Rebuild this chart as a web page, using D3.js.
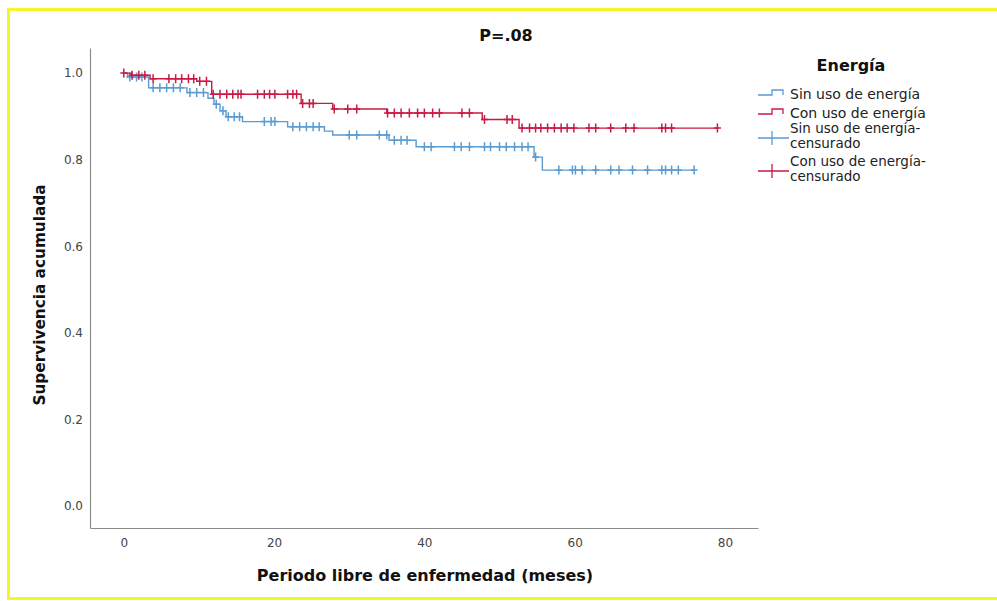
<!DOCTYPE html>
<html><head><meta charset="utf-8">
<script src="https://cdn.jsdelivr.net/npm/d3@7"></script>
<style>
html,body{margin:0;padding:0;background:#fff;}
svg{display:block;}
text{font-family:"DejaVu Sans",sans-serif;}
</style></head>
<body>
<svg id="chart" width="997" height="601"></svg>
<script>
// ---- data ----
const seriesNames = ["Sin uso de energía", "Con uso de energía"];
const legendTitle = "Energía";
const chartTitle = "P=.08";
const xTitle = "Periodo libre de enfermedad (meses)";
const yTitle = "Supervivencia acumulada";
const xTicks = [0, 20, 40, 60, 80];
const yTicks = [0.0, 0.2, 0.4, 0.6, 0.8, 1.0];

// event steps [time, survival after event]
const sinSteps = [[0,1.0],[0.5,0.991],[3.3,0.966],[8.4,0.955],[11.2,0.942],[12.0,0.928],[12.8,0.913],[13.6,0.899],[15.8,0.888],[21.8,0.876],[26.7,0.866],[27.8,0.857],[35.3,0.845],[38.9,0.830],[54.6,0.806],[55.7,0.776]];
const sinEnd = 75.9;
const sinCensored = [0.8,1.7,2.4,3.9,4.8,5.7,6.6,7.5,8.8,9.7,10.6,12.3,13.2,13.9,14.7,15.4,18.7,19.6,20.1,22.5,23.4,24.3,25.2,26.0,30.0,31.0,34.0,35.0,36.0,36.9,37.7,40.0,40.9,44.0,44.9,46.0,48.0,48.8,50.0,50.9,52.0,53.0,53.8,54.8,57.9,59.7,60.1,61.0,62.8,64.8,65.9,67.7,69.7,71.6,72.1,72.9,73.8,75.9];

const conSteps = [[0,1.0],[1.0,0.995],[3.5,0.987],[9.7,0.981],[11.7,0.951],[23.6,0.930],[27.8,0.917],[35.0,0.908],[47.7,0.893],[52.6,0.873]];
const conEnd = 79.0;
const conCensored = [0,1.1,2.0,2.8,3.9,6.0,6.9,7.7,8.6,9.3,10.1,11.0,11.9,12.8,13.7,14.5,15.2,15.6,17.8,18.7,19.4,20.1,21.8,22.5,23.0,23.8,24.7,25.2,28.0,29.8,31.0,35.1,36.0,36.9,38.0,39.1,40.0,41.1,42.0,45.0,46.0,48.0,51.0,51.7,53.0,54.0,54.8,55.5,56.4,57.3,58.2,59.0,59.9,61.9,62.8,64.8,66.8,67.9,71.6,72.1,72.9,79.0];

const colors = ["#5a9bd2", "#c71a45"];

// ---- drawing ----
const svg = d3.select("#chart");
svg.append("rect").attr("x",8.5).attr("y",9.5).attr("width",1000).attr("height",589)
  .attr("fill","none").attr("stroke","#f5f52a").attr("stroke-width",3);

const x = d3.scaleLinear().domain([-4.5, 84.4]).range([90, 758]);
const y = d3.scaleLinear().domain([-0.0508, 1.058]).range([528, 48]);

const xAxis = svg.append("g").attr("transform","translate(0,528)")
  .call(d3.axisBottom(x).tickValues(xTicks).tickSize(0).tickPadding(10).tickFormat(d3.format("d")));
const yAxis = svg.append("g").attr("transform","translate(90,0)")
  .call(d3.axisLeft(y).tickValues(yTicks).tickSize(0).tickPadding(7).tickFormat(d3.format(".1f")));
[xAxis,yAxis].forEach(g=>{
  g.select(".domain").attr("stroke","#8c8c8c").attr("stroke-width",1.2);
  g.selectAll("text").attr("fill","#444").style("font-size","12px").style("font-family","DejaVu Sans, sans-serif");
});

function survAt(steps, t){
  let s = steps[0][1];
  for (const [tt, ss] of steps){ if (tt <= t) s = ss; }
  return s;
}
function kmPath(steps, end){
  const p = d3.path();
  p.moveTo(x(steps[0][0]), y(steps[0][1]));
  for (let i=1;i<steps.length;i++){
    p.lineTo(x(steps[i][0]), y(steps[i-1][1]));
    p.lineTo(x(steps[i][0]), y(steps[i][1]));
  }
  p.lineTo(x(end), y(steps[steps.length-1][1]));
  return p.toString();
}

const groups = [
  {steps: sinSteps, end: sinEnd, cens: sinCensored, color: colors[0]},
  {steps: conSteps, end: conEnd, cens: conCensored, color: colors[1]}
];
groups.forEach(g=>{
  svg.append("path").attr("d", kmPath(g.steps, g.end))
    .attr("fill","none").attr("stroke", g.color).attr("stroke-width",1.4);
  const cg = svg.append("g").attr("stroke", g.color).attr("stroke-width",1.5);
  g.cens.forEach(t=>{
    const cx = x(t), cy = y(survAt(g.steps, t));
    cg.append("path").attr("d", `M${cx-3.5},${cy}H${cx+3.5}M${cx},${cy-4.5}V${cy+4.5}`);
  });
});

// titles
svg.append("text").attr("x",506).attr("y",41).attr("text-anchor","middle")
  .style("font-size","16px").style("font-weight","bold").attr("fill","#111").text(chartTitle);
svg.append("text").attr("x",425).attr("y",581).attr("text-anchor","middle")
  .style("font-size","16px").style("font-weight","bold").attr("fill","#111").text(xTitle);
svg.append("text").attr("transform","translate(45,295) rotate(-90)").attr("text-anchor","middle")
  .style("font-size","15.3px").style("font-weight","bold").attr("fill","#111").text(yTitle);

// legend
const lg = svg.append("g");
lg.append("text").attr("x",851).attr("y",71).attr("text-anchor","middle")
  .style("font-size","16px").style("font-weight","bold").attr("fill","#111").text(legendTitle);
const stepY = [94, 113];
stepY.forEach((cy,i)=>{
  lg.append("path").attr("d",`M758,${cy+1}H772V${cy-4}H783V${cy+1}`)
    .attr("fill","none").attr("stroke",colors[i]).attr("stroke-width",1.3);
  lg.append("text").attr("x",790).attr("y",cy+5).style("font-size","14px").attr("fill","#222").text(seriesNames[i]);
});
const crossY = [138, 171];
crossY.forEach((cy,i)=>{
  lg.append("path").attr("d",`M758,${cy}H789M772,${cy-7}V${cy+7}`)
    .attr("fill","none").attr("stroke",colors[i]).attr("stroke-width",1.3);
  const t = lg.append("text").attr("x",790).attr("y",cy-5).style("font-size","13.5px").attr("fill","#222");
  t.append("tspan").attr("x",790).attr("dy",0).text(seriesNames[i] + "-");
  t.append("tspan").attr("x",790).attr("dy",14.5).text("censurado");
});
</script>
</body></html>
